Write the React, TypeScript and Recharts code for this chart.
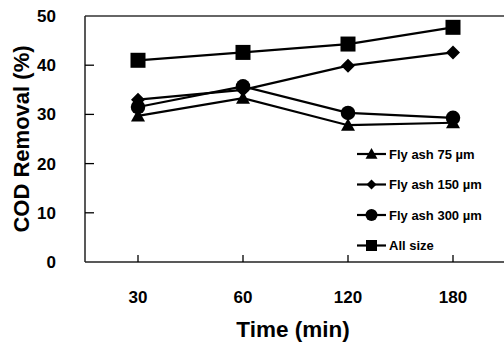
import { LineChart, Line, XAxis, YAxis, ReferenceLine, Label } from "recharts";

const times = ["30", "60", "120", "180"];
const ash75 = [29.7, 33.3, 27.8, 28.3];
const ash150 = [33.0, 35.0, 39.9, 42.6];
const ash300 = [31.5, 35.7, 30.3, 29.3];
const allSize = [41.0, 42.6, 44.3, 47.7];
const yTicks = [0, 10, 20, 30, 40, 50];

const series = [
  { key: "ash75", name: "Fly ash 75 µm", shape: "triangle", values: ash75 },
  { key: "ash150", name: "Fly ash 150 µm", shape: "diamond", values: ash150 },
  { key: "ash300", name: "Fly ash 300 µm", shape: "circle", values: ash300 },
  { key: "allSize", name: "All size", shape: "square", values: allSize },
];

const data = times.map((t, i) => {
  const row: Record<string, string | number> = { time: t };
  series.forEach((s) => (row[s.key] = s.values[i]));
  return row;
});

const FONT = "'Liberation Sans', Arial, Helvetica, sans-serif";
const INK = "#000";

function Marker({ shape, cx, cy, size }: { shape: string; cx: number; cy: number; size: number }) {
  const h = size / 2;
  if (shape === "square") return <rect x={cx - h} y={cy - h} width={size} height={size} fill={INK} />;
  if (shape === "circle") return <circle cx={cx} cy={cy} r={h} fill={INK} />;
  if (shape === "diamond")
    return <polygon points={`${cx},${cy - h} ${cx + h},${cy} ${cx},${cy + h} ${cx - h},${cy}`} fill={INK} />;
  return <polygon points={`${cx},${cy - h} ${cx + h},${cy + h * 0.8} ${cx - h},${cy + h * 0.8}`} fill={INK} />;
}

const dotSize: Record<string, number> = { square: 15, circle: 14.5, diamond: 14, triangle: 14 };
const legendSize: Record<string, number> = { square: 11, circle: 12, diamond: 10, triangle: 12 };

function YTick({ x, y, payload }: any) {
  const v = payload.value;
  return (
    <g>
      {v !== 0 && v !== 50 && <line x1={x} x2={x + 9} y1={y} y2={y} stroke={INK} strokeWidth={1.3} />}
      <text x={x - 29} y={y} dy={6} textAnchor="end" fontSize={17} fontWeight="bold" fontFamily={FONT} fill={INK}>
        {v}
      </text>
    </g>
  );
}

function XTick({ x, y, payload }: any) {
  return (
    <g>
      <line x1={x} x2={x} y1={y} y2={y - 7} stroke={INK} strokeWidth={1.3} />
      <text x={x} y={y + 41} textAnchor="middle" fontSize={17} fontWeight="bold" fontFamily={FONT} fill={INK}>
        {payload.value}
      </text>
    </g>
  );
}

function LegendBox() {
  return (
    <svg width={150} height={125} style={{ position: "absolute", left: 350, top: 146 }}>
      {series.map((s, i) => {
        const cy = 8 + i * 30.5;
        return (
          <g key={s.key}>
            <line x1={7} x2={36} y1={cy} y2={cy} stroke={INK} strokeWidth={2.2} />
            <Marker shape={s.shape} cx={21.5} cy={cy} size={legendSize[s.shape]} />
            <text x={39} y={cy + 4.5} fontSize={13} fontWeight="bold" fontFamily={FONT} fill={INK}>
              {s.name}
            </text>
          </g>
        );
      })}
    </svg>
  );
}

export default function App() {
  return (
    <div style={{ position: "absolute", left: 0, top: 0, width: 505, height: 347, background: "#fff" }}>
      <LineChart width={505} height={347} data={data} margin={{ top: 16, right: 0, left: 0, bottom: 0 }}>
        <XAxis
          dataKey="time"
          height={85}
          padding={{ left: 53, right: 52 }}
          tickSize={0}
          tickMargin={0}
          tickLine={false}
          axisLine={{ stroke: "#222", strokeWidth: 1.5 }}
          tick={<XTick />}
          interval={0}
        >
          <Label
            value="Time (min)"
            position="insideBottom"
            offset={10}
            dx={-2}
            style={{ fontSize: 22.5, fontWeight: "bold", fontFamily: FONT, fill: INK }}
          />
        </XAxis>
        <YAxis
          width={85}
          domain={[0, 50]}
          ticks={yTicks}
          tickSize={0}
          tickMargin={0}
          tickLine={false}
          axisLine={{ stroke: "#222", strokeWidth: 1.5 }}
          tick={<YTick />}
          interval={0}
        >
          <Label
            value="COD Removal (%)"
            angle={-90}
            position="center"
            dx={-21}
            style={{ fontSize: 22, fontWeight: "bold", fontFamily: FONT, fill: INK, textAnchor: "middle" }}
          />
        </YAxis>
        <ReferenceLine y={50} stroke="#333" strokeWidth={1.5} />
        {series.map((s) => (
          <Line
            key={s.key}
            dataKey={s.key}
            name={s.name}
            type="linear"
            stroke={INK}
            strokeWidth={2.2}
            isAnimationActive={false}
            dot={(p: any) => (
              <Marker key={`${s.key}-${p.index}`} shape={s.shape} cx={p.cx} cy={p.cy} size={dotSize[s.shape]} />
            )}
            activeDot={false}
          />
        ))}
      </LineChart>
      <LegendBox />
    </div>
  );
}
